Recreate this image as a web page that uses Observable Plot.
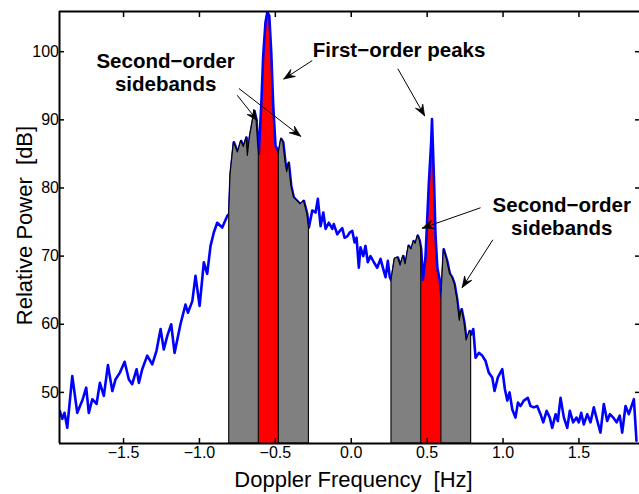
<!DOCTYPE html>
<html><head><meta charset="utf-8">
<script src="https://cdn.jsdelivr.net/npm/d3@7"></script>
<script src="https://cdn.jsdelivr.net/npm/@observablehq/plot@0.6"></script>
<style>
html,body{margin:0;padding:0;background:#fff;overflow:hidden}
svg text{white-space:pre}
</style></head><body><div id="chart"></div>
<script>
const freq = [-1.920,-1.904,-1.889,-1.871,-1.838,-1.805,-1.772,-1.746,-1.729,-1.706,-1.678,-1.656,-1.630,-1.603,-1.574,-1.553,-1.524,-1.493,-1.465,-1.443,-1.414,-1.399,-1.377,-1.344,-1.311,-1.283,-1.256,-1.235,-1.212,-1.186,-1.164,-1.125,-1.092,-1.076,-1.047,-1.026,-0.999,-0.971,-0.949,-0.927,-0.905,-0.883,-0.850,-0.817,-0.804,-0.795,-0.773,-0.747,-0.725,-0.708,-0.690,-0.681,-0.668,-0.652,-0.637,-0.624,-0.609,-0.593,-0.580,-0.565,-0.553,-0.540,-0.527,-0.514,-0.499,-0.477,-0.461,-0.448,-0.433,-0.422,-0.411,-0.395,-0.378,-0.356,-0.334,-0.312,-0.290,-0.279,-0.257,-0.235,-0.220,-0.202,-0.184,-0.169,-0.148,-0.125,-0.115,-0.092,-0.075,-0.059,-0.044,-0.026,-0.009,0.007,0.022,0.035,0.050,0.061,0.079,0.094,0.109,0.127,0.149,0.171,0.193,0.211,0.226,0.241,0.254,0.265,0.287,0.307,0.325,0.343,0.358,0.379,0.397,0.412,0.424,0.439,0.452,0.461,0.472,0.489,0.511,0.527,0.532,0.544,0.555,0.567,0.584,0.594,0.610,0.632,0.650,0.665,0.681,0.698,0.715,0.728,0.745,0.760,0.781,0.790,0.804,0.819,0.841,0.863,0.885,0.906,0.929,0.944,0.966,0.995,1.012,1.028,1.043,1.061,1.082,1.098,1.115,1.137,1.163,1.181,1.203,1.225,1.247,1.265,1.287,1.308,1.324,1.346,1.361,1.379,1.401,1.423,1.440,1.462,1.484,1.499,1.515,1.532,1.555,1.576,1.598,1.621,1.642,1.664,1.686,1.704,1.726,1.748,1.769,1.785,1.807,1.829,1.862,1.879];
const power = [47.3,46.1,47.0,44.8,52.4,47.0,48.8,50.7,47.0,49.0,48.3,51.4,49.5,54.0,50.2,51.9,52.9,54.5,51.9,51.2,53.4,51.4,53.4,55.4,54.1,56.1,59.3,56.3,58.3,60.0,55.8,60.0,62.9,61.7,63.4,67.1,62.7,69.1,67.4,71.5,73.5,74.9,74.2,75.9,76.2,82.0,86.7,85.2,86.9,86.0,87.4,84.7,87.4,89.4,91.3,89.9,85.0,92.1,99.4,104.3,105.8,105.3,99.9,92.1,86.2,85.2,87.2,86.7,83.7,82.3,83.7,80.3,78.6,78.1,77.6,78.1,76.2,74.2,76.7,76.4,78.4,74.4,76.4,74.0,74.9,74.0,74.7,73.2,73.7,74.1,72.7,72.9,73.5,73.7,72.0,72.7,68.3,71.3,70.0,71.5,69.1,70.0,69.1,68.3,69.6,68.1,66.9,69.3,66.9,66.4,69.6,69.8,68.6,70.0,68.8,71.5,71.0,72.2,71.8,73.0,72.2,71.0,66.5,69.8,80.6,86.9,90.1,82.0,73.2,68.3,66.4,64.0,71.0,69.3,67.4,66.9,65.9,63.7,60.5,62.2,60.3,57.6,59.0,58.5,59.3,55.1,55.8,55.4,54.6,52.9,52.2,50.2,52.2,53.4,50.5,48.8,50.0,47.5,46.3,48.5,48.0,48.8,49.2,48.0,47.8,48.0,46.8,45.6,47.3,46.3,44.8,46.8,45.8,49.2,46.3,44.8,47.3,45.6,46.3,45.6,47.0,45.3,46.8,45.6,47.8,45.8,44.1,48.3,45.8,46.8,46.3,45.6,46.6,44.1,48.0,46.8,49.0,42.9];

const xTicks = [-1.5, -1, -0.5, 0, 0.5, 1, 1.5];
const yTicks = [50, 60, 70, 80, 90, 100];
const xDomain = [-1.922, 1.899];
const yDomain = [42.5, 105.9];
const xLabel = "Doppler Frequency  [Hz]";
const yLabel = "Relative Power  [dB]";

const grayBands = [[-0.804, -0.609], [-0.477, -0.279], [0.265, 0.461], [0.594, 0.790]];
const redBands = [[-0.609, -0.477], [0.461, 0.594]];

const noteText = ["Second\u2212order\nsidebands", "First\u2212order peaks", "Second\u2212order\nsidebands"];
const noteX = [-1.223, 0.315, 1.387];
const noteY = [99.94, 101.66, 78.9];

const arrowX1 = [-0.740, -0.751, -0.257, 0.307, 0.852, 0.933];
const arrowY1 = [94.6, 93.6, 98.7, 97.5, 77.1, 72.4];
const arrowX2 = [-0.334, -0.619, -0.444, 0.483, 0.468, 0.731];
const arrowY2 = [87.6, 89.9, 96.0, 90.6, 74.1, 65.4];

const spectrum = freq.map((f, i) => ({f, p: power[i]}));
const bandRows = (bands) => bands.flatMap(([a, b], k) =>
  spectrum.filter(d => d.f >= a - 1e-9 && d.f <= b + 1e-9).map(d => ({...d, band: k})));
const grayData = bandRows(grayBands);
const redData = bandRows(redBands);
const notes = noteText.map((t, i) => ({t, x: noteX[i], y: noteY[i]}));
const arrows = arrowX1.map((x1, i) => ({x1, y1: arrowY1[i], x2: arrowX2[i], y2: arrowY2[i]}));

const font = "'Liberation Sans', Arial, Helvetica, sans-serif";
const layout = {
  width: 639, height: 494,
  marginLeft: 59, marginRight: 0, marginTop: 11, marginBottom: 51,
  x: {domain: xDomain}, y: {domain: yDomain}
};

// Use the plot's own scales to shape filled arrowheads (MATLAB-style) along each arrow.
const probe = Plot.plot({...layout, marks: []});
const sx = probe.scale("x"), sy = probe.scale("y");
const X = d3.scaleLinear(sx.domain, sx.range), Y = d3.scaleLinear(sy.domain, sy.range);
const headLen = 11, headHalf = 4.2, notch = 0.62;
const heads = arrows.flatMap((a, k) => {
  const tx = X(a.x2), ty = Y(a.y2), fx = X(a.x1), fy = Y(a.y1);
  const len = Math.hypot(tx - fx, ty - fy);
  const ux = (tx - fx) / len, uy = (ty - fy) / len, nx = -uy, ny = ux;
  const pts = [
    [tx, ty],
    [tx - headLen * ux + headHalf * nx, ty - headLen * uy + headHalf * ny],
    [tx - notch * headLen * ux, ty - notch * headLen * uy],
    [tx - headLen * ux - headHalf * nx, ty - headLen * uy - headHalf * ny],
    [tx, ty]
  ];
  return pts.map(([px, py]) => ({x: X.invert(px), y: Y.invert(py), k}));
});

const chart = Plot.plot({
  ...layout,
  style: {fontFamily: font, background: "white", color: "black"},
  marks: [
    Plot.areaY(redData, {x: "f", y1: yDomain[0], y2: "p", z: "band", fill: "#ff0000"}),
    Plot.line(spectrum, {x: "f", y: "p", stroke: "#0000ff", strokeWidth: 2.6, clip: true}),
    Plot.areaY(grayData, {x: "f", y1: yDomain[0], y2: "p", z: "band", fill: "#808080", stroke: "black", strokeWidth: 1.1}),
    Plot.ruleX([xDomain[0]], {stroke: "black", strokeWidth: 2}),
    Plot.ruleY([yDomain[0], yDomain[1]], {stroke: "black", strokeWidth: 2}),
    Plot.axisX({anchor: "bottom", ticks: xTicks, tickSize: -5, tickPadding: 8, fontSize: 16, strokeWidth: 1.5, label: null}),
    Plot.axisX({anchor: "top", ticks: xTicks, tickSize: -5, tickFormat: () => "", strokeWidth: 1.5, label: null}),
    Plot.axisY({anchor: "left", ticks: yTicks, tickSize: -5, tickPadding: 5.5, fontSize: 16, strokeWidth: 1.5, label: null}),
    Plot.axisY({anchor: "right", ticks: yTicks, tickSize: -5, tickFormat: () => "", strokeWidth: 1.5, label: null}),
    Plot.text([xLabel], {frameAnchor: "bottom", lineAnchor: "middle", textAnchor: "middle", dy: 36, dx: 4, fontSize: 22, fill: "black"}),
    Plot.text([yLabel], {frameAnchor: "left", lineAnchor: "middle", textAnchor: "middle", rotate: -90, dx: -35, dy: -2, fontSize: 22, fill: "black"}),
    Plot.link(arrows, {x1: "x1", y1: "y1", x2: "x2", y2: "y2", stroke: "black", strokeWidth: 1}),
    Plot.line(heads, {x: "x", y: "y", z: "k", fill: "black", stroke: "black", strokeWidth: 0.8, strokeLinejoin: "miter"}),
    Plot.text(notes, {x: "x", y: "y", text: "t", lineAnchor: "top", lineHeight: 1.12, fontSize: 20.5, fontWeight: "bold", fill: "black"})
  ]
});
document.getElementById("chart").appendChild(chart);
</script>
</body></html>
